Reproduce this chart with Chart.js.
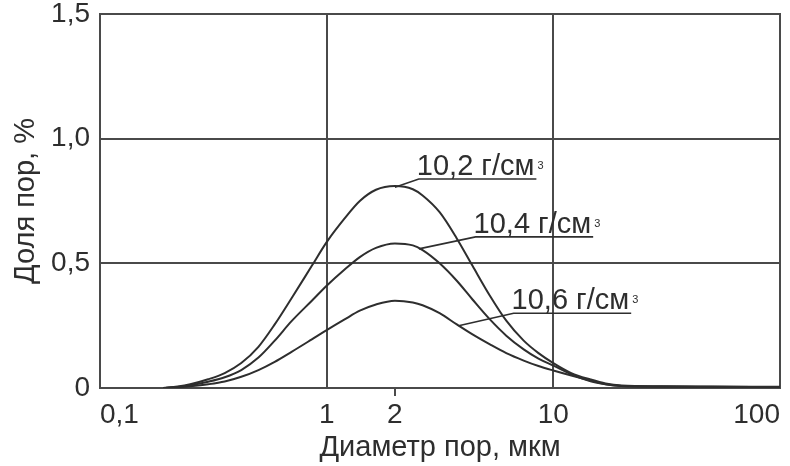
<!DOCTYPE html>
<html>
<head>
<meta charset="utf-8">
<script src="https://cdn.jsdelivr.net/npm/chart.js@4.4.1/dist/chart.umd.min.js"></script>
<style>
html,body{margin:0;padding:0;background:#fff;}
#wrap{width:790px;height:466px;}
</style>
</head>
<body>
<div id="wrap"><canvas id="c" width="790" height="466"></canvas></div>
<script>
// ---- data ----
const diameters = [0.19, 0.22, 0.25, 0.3, 0.355, 0.42, 0.5, 0.59, 0.7, 0.86, 1, 1.2, 1.4, 1.65, 2, 2.4, 2.65, 3.15, 3.75, 4.4, 5.25, 6.2, 7.4, 8.6, 10, 12, 14.6, 17, 20, 30, 50, 100];
const share102 = [0, 0.006, 0.015, 0.035, 0.06, 0.1, 0.165, 0.255, 0.36, 0.49, 0.585, 0.68, 0.75, 0.795, 0.81, 0.797, 0.772, 0.705, 0.60, 0.49, 0.37, 0.27, 0.19, 0.14, 0.10, 0.06, 0.034, 0.018, 0.01, 0.007, 0.006, 0.005];
const share104 = [0, 0.004, 0.011, 0.025, 0.043, 0.072, 0.122, 0.19, 0.268, 0.35, 0.41, 0.475, 0.525, 0.562, 0.58, 0.572, 0.553, 0.50, 0.43, 0.355, 0.275, 0.21, 0.155, 0.118, 0.09, 0.055, 0.027, 0.015, 0.008, 0.006, 0.005, 0.004];
const share106 = [0, 0.003, 0.007, 0.015, 0.026, 0.045, 0.072, 0.105, 0.145, 0.195, 0.232, 0.275, 0.31, 0.335, 0.35, 0.343, 0.332, 0.30, 0.255, 0.215, 0.175, 0.14, 0.11, 0.088, 0.07, 0.05, 0.03, 0.015, 0.008, 0.005, 0.004, 0.003];
const seriesNames = ['10,2 г/см³', '10,4 г/см³', '10,6 г/см³'];
const xTickValues = [0.1, 1, 2, 10, 100];
const xTickLabels = ['0,1', '1', '2', '10', '100'];
const yTickValues = [0, 0.5, 1, 1.5];
const yTickLabels = ['0', '0,5', '1,0', '1,5'];
const xTitle = 'Диаметр пор, мкм';
const yTitle = 'Доля пор, %';

// leader-line anchors (data units): point on curve, start of underline
const labelAnchors = [
  {curve: [2.0, 0.805], label: [2.55, 0.838]},
  {curve: [2.55, 0.558], label: [4.54, 0.606]},
  {curve: [3.82, 0.25], label: [6.68, 0.30]}
];

const ink = '#2e2e2e';
const gridInk = '#4a4a4a';
const fontFam = '"Liberation Sans", Arial, sans-serif';

const seriesData = [share102, share104, share106];
const datasets = seriesData.map((arr, i) => ({
  label: seriesNames[i],
  data: diameters.map((d, k) => ({x: d, y: arr[k]})),
  borderColor: ink,
  borderWidth: 2,
  pointRadius: 0,
  fill: false,
  tension: 0.4,
  cubicInterpolationMode: 'monotone'
}));

const overlay = {
  id: 'overlay',
  beforeDatasetsDraw(chart) {
    const {ctx, chartArea: a} = chart;
    ctx.save();
    ctx.strokeStyle = gridInk;
    ctx.lineWidth = 2;
    ctx.strokeRect(a.left, a.top, a.right - a.left, a.bottom - a.top);
    ctx.restore();
  },
  afterDatasetsDraw(chart) {
    const {ctx} = chart;
    const xs = chart.scales.x, ys = chart.scales.y;
    ctx.save();
    labelAnchors.forEach((an, i) => {
      const parts = seriesNames[i].split('³');
      const x0 = xs.getPixelForValue(an.curve[0]), y0 = ys.getPixelForValue(an.curve[1]);
      const x1 = xs.getPixelForValue(an.label[0]), y1 = ys.getPixelForValue(an.label[1]);
      ctx.font = '29px ' + fontFam;
      const w = ctx.measureText(parts[0]).width;
      ctx.strokeStyle = ink;
      ctx.lineWidth = 1.6;
      ctx.beginPath();
      ctx.moveTo(x0, y0);
      ctx.lineTo(x1, y1);
      ctx.lineTo(x1 + w, y1);
      ctx.stroke();
      ctx.fillStyle = ink;
      ctx.textBaseline = 'alphabetic';
      ctx.textAlign = 'left';
      ctx.fillText(parts[0], x1 - 2, y1 - 4);
      ctx.font = '11px ' + fontFam;
      ctx.fillText('3', x1 + w + 1, y1 - 10);
    });
    ctx.restore();
  }
};

new Chart(document.getElementById('c'), {
  type: 'line',
  data: {datasets},
  options: {
    responsive: false,
    animation: false,
    devicePixelRatio: 1,
    layout: {padding: {top: 14, right: 10, bottom: 0, left: 0}},
    plugins: {legend: {display: false}, tooltip: {enabled: false}},
    scales: {
      x: {
        type: 'logarithmic',
        min: 0.1,
        max: 100,
        afterBuildTicks(scale) { scale.ticks = xTickValues.map(v => ({value: v})); },
        afterFit(scale) { scale.height = 78; scale.paddingLeft = 0; scale.paddingRight = 0; },
        border: {display: false},
        grid: {
          color: ctx => (ctx.tick && (ctx.tick.value === 1 || ctx.tick.value === 10)) ? gridInk : 'rgba(0,0,0,0)',
          tickColor: ctx => (ctx.tick && ctx.tick.value === 2) ? gridInk : 'rgba(0,0,0,0)',
          lineWidth: 2,
          tickLength: 8,
          drawTicks: true
        },
        ticks: {
          autoSkip: false,
          maxRotation: 0,
          align: 'inner',
          padding: 2,
          color: ink,
          font: {family: fontFam, size: 28},
          callback: (v, i) => xTickLabels[i]
        },
        title: {
          display: true,
          text: xTitle,
          color: ink,
          font: {family: fontFam, size: 29},
          padding: {top: 0, bottom: 1}
        }
      },
      y: {
        min: 0,
        max: 1.5,
        afterBuildTicks(scale) { scale.ticks = yTickValues.map(v => ({value: v})); },
        afterFit(scale) { scale.width = 100; scale.paddingTop = 0; scale.paddingBottom = 0; },
        border: {display: false},
        grid: {
          color: ctx => (ctx.tick && (ctx.tick.value === 0.5 || ctx.tick.value === 1)) ? gridInk : 'rgba(0,0,0,0)',
          lineWidth: 2,
          drawTicks: false
        },
        ticks: {
          padding: 10,
          color: ink,
          font: {family: fontFam, size: 28},
          callback: (v, i) => yTickLabels[i]
        },
        title: {
          display: true,
          text: yTitle,
          color: ink,
          font: {family: fontFam, size: 29},
          padding: {top: 9, bottom: 0}
        }
      }
    }
  },
  plugins: [overlay]
});
</script>
</body>
</html>
